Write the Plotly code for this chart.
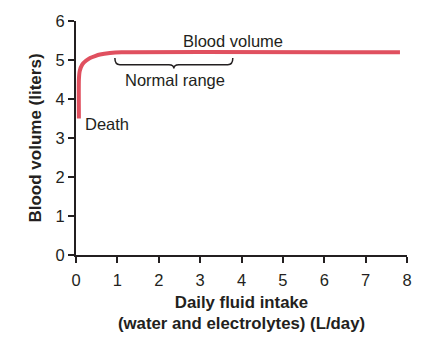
import plotly.graph_objects as go

# Data
intake = [0.07, 0.07, 0.09, 0.15, 0.24, 0.34, 0.46, 0.58, 0.82, 1.1, 7.83]
volume = [3.5, 4.5, 4.72, 4.88, 4.98, 5.05, 5.1, 5.14, 5.18, 5.2, 5.2]
normal_range = [0.94, 3.79]   # L/day spanned by the brace
x_ticks = [0, 1, 2, 3, 4, 5, 6, 7, 8]
y_ticks = [0, 1, 2, 3, 4, 5, 6]

FONT = "Liberation Sans, Arial, Helvetica, sans-serif"
INK = "#231f20"

fig = go.Figure()
fig.add_trace(go.Scatter(
    x=intake, y=volume, mode="lines",
    line=dict(color="#e0505f", width=4, shape="spline", smoothing=0.6),
    hoverinfo="skip", showlegend=False,
))

fig.add_annotation(x=3.79, y=5.5, text="Blood volume", showarrow=False,
                   font=dict(size=16.5, color=INK, family=FONT))
fig.add_annotation(x=2.4, y=4.48, text="Normal range", showarrow=False,
                   font=dict(size=16.5, color=INK, family=FONT))
fig.add_annotation(x=0.18, y=3.35, text="Death", showarrow=False, xanchor="left",
                   font=dict(size=16.5, color=INK, family=FONT))

# curly brace under the flat part of the curve
a, b = normal_range
m = (a + b) / 2
top, flat, tip = 5.05, 4.88, 4.78
d = 0.12
path = (f"M {a},{top} Q {a},{flat} {a+d},{flat} L {m-d},{flat} "
        f"Q {m},{flat} {m},{tip} Q {m},{flat} {m+d},{flat} "
        f"L {b-d},{flat} Q {b},{flat} {b},{top}")
fig.add_shape(type="path", path=path, xref="x", yref="y",
              line=dict(color=INK, width=1.5))

fig.update_xaxes(range=[0, 8], tickvals=x_ticks, ticks="outside", ticklen=6,
                 tickwidth=2, tickcolor=INK, showline=True, linecolor=INK,
                 linewidth=2, showgrid=False, zeroline=False, ticklabelstandoff=3,
                 tickfont=dict(size=16.5, color=INK, family=FONT),
                 title=dict(text="<b>Daily fluid intake<br>(water and electrolytes) (L/day)</b>",
                            font=dict(size=16.8, color=INK, family=FONT), standoff=8))
fig.update_yaxes(range=[0, 6], tickvals=y_ticks, ticks="outside", ticklen=6,
                 tickwidth=2, tickcolor=INK, showline=True, linecolor=INK,
                 linewidth=2, showgrid=False, zeroline=False,
                 tickfont=dict(size=16.5, color=INK, family=FONT),
                 title=dict(text="<b>Blood volume (liters)</b>",
                            font=dict(size=17, color=INK, family=FONT), standoff=10))

fig.update_layout(width=446, height=342, margin=dict(l=76, r=39, t=19, b=83),
                  plot_bgcolor="white", paper_bgcolor="white")

fig.write_html("out.html")
